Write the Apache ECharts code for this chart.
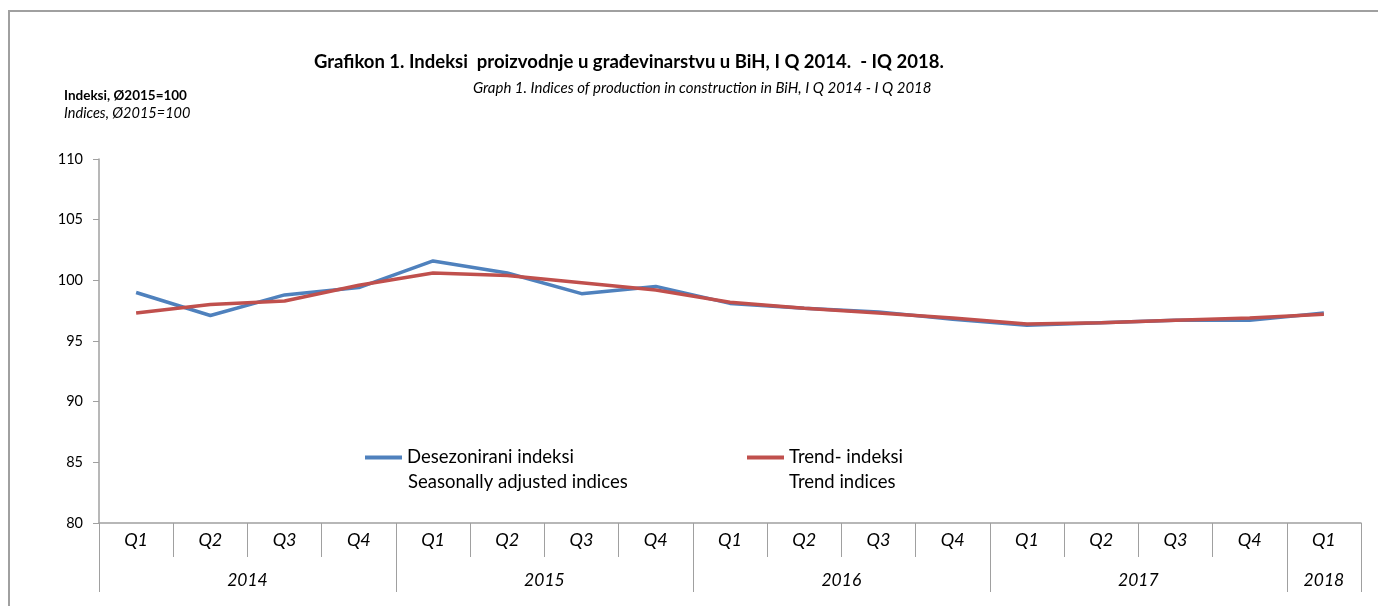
<!DOCTYPE html>
<html>
<head>
<meta charset="utf-8">
<title>Indeksi proizvodnje u građevinarstvu</title>
<script src="https://cdn.jsdelivr.net/npm/echarts@6/dist/echarts.min.js"></script>
<style>
  html, body { margin: 0; padding: 0; background: #fff; }
  #chart { width: 1378px; height: 606px; }
</style>
</head>
<body>
<div id="chart"></div>
<script>
// podaci - kvartali, godine i serije
const quarters = ['Q1', 'Q2', 'Q3', 'Q4', 'Q1', 'Q2', 'Q3', 'Q4', 'Q1', 'Q2', 'Q3', 'Q4', 'Q1', 'Q2', 'Q3', 'Q4', 'Q1']
const years = ['2014', '2015', '2016', '2017', '2018']
const quartersPerYear = [4, 4, 4, 4, 1]
const seasonal = [99.0, 97.1, 98.8, 99.4, 101.6, 100.6, 98.9, 99.5, 98.1, 97.7, 97.4, 96.8, 96.3, 96.5, 96.7, 96.7, 97.3]
const trend = [97.3, 98.0, 98.3, 99.6, 100.6, 100.4, 99.8, 99.2, 98.2, 97.7, 97.3, 96.9, 96.4, 96.5, 96.7, 96.9, 97.2]
const seriesNames = ['Desezonirani indeksi', 'Trend- indeksi']
const seriesNamesEn = ['Seasonally adjusted indices', 'Trend indices']

const FONT = 'Lato, "Open Sans", sans-serif'
const GREY = '#a0a0a0'

// granice godina i sredine za oznake
const yearBounds = [0]
const yearCenters = []
quartersPerYear.forEach(n => {
  const start = yearBounds[yearBounds.length - 1]
  yearCenters.push(start + n / 2)
  yearBounds.push(start + n)
})

const chart = echarts.init(document.getElementById('chart'))

const legendText = { fontFamily: FONT, fontSize: 18.5, color: '#000' }

const option = {
  animation: false,
  title: [
    {
      text: 'Grafikon 1. Indeksi  proizvodnje u građevinarstvu u BiH, I Q 2014.  - IQ 2018.',
      left: 314, top: 53, padding: 0,
      textStyle: { fontFamily: FONT, fontSize: 18.5, fontWeight: 'bold', color: '#000' }
    },
    {
      text: 'Graph 1. Indices of production in construction in BiH, I Q 2014 - I Q 2018',
      left: 473, top: 81, padding: 0,
      textStyle: { fontFamily: FONT, fontSize: 15, fontWeight: 'normal', fontStyle: 'italic', color: '#000' }
    },
    {
      text: 'Indeksi, Ø2015=100',
      left: 64, top: 89, padding: 0,
      textStyle: { fontFamily: FONT, fontSize: 13.5, fontWeight: 'bold', color: '#000' }
    },
    {
      text: 'Indices, Ø2015=100',
      left: 64, top: 106, padding: 0,
      textStyle: { fontFamily: FONT, fontSize: 14.5, fontWeight: 'normal', fontStyle: 'italic', color: '#000' }
    }
  ],
  legend: [
    {
      data: [seriesNames[0]],
      left: 365, top: 448, padding: 0,
      icon: 'rect', itemWidth: 37, itemHeight: 4,
      textStyle: legendText
    },
    {
      data: [seriesNames[1]],
      left: 747, top: 448, padding: 0,
      icon: 'rect', itemWidth: 37, itemHeight: 4,
      textStyle: legendText
    }
  ],
  graphic: [
    {
      type: 'rect',
      shape: { x: 9, y: 11, width: 1400, height: 700 },
      style: { fill: 'none', stroke: GREY, lineWidth: 2 },
      silent: true
    },
    {
      type: 'text', left: 408, top: 473,
      style: { text: seriesNamesEn[0], font: '18.5px ' + FONT, fill: '#000' }
    },
    {
      type: 'text', left: 789, top: 473,
      style: { text: seriesNamesEn[1], font: '18.5px ' + FONT, fill: '#000' }
    }
  ],
  grid: { left: 99, right: 17, top: 159, bottom: 83, containLabel: false },
  xAxis: [
    {
      type: 'category',
      data: quarters,
      boundaryGap: true,
      axisLine: { show: true, lineStyle: { color: GREY, width: 1.5 } },
      axisTick: { show: true, interval: 0, length: 34, lineStyle: { color: GREY } },
      axisLabel: { interval: 0, margin: 8, fontFamily: FONT, fontSize: 18, fontStyle: 'italic', color: '#000' },
      splitLine: { show: false }
    },
    {
      type: 'value',
      min: 0,
      max: yearBounds[yearBounds.length - 1],
      position: 'bottom',
      axisLine: { show: false },
      axisTick: { show: true, customValues: yearBounds, length: 69, lineStyle: { color: GREY } },
      axisLabel: {
        customValues: yearCenters,
        margin: 48,
        fontFamily: FONT, fontSize: 17.5, fontStyle: 'italic', color: '#000',
        formatter: (v) => {
          const i = yearCenters.findIndex(c => Math.abs(c - v) < 1e-6)
          return i >= 0 ? years[i] : ''
        }
      },
      splitLine: { show: false }
    }
  ],
  yAxis: {
    type: 'value',
    min: 80, max: 110, interval: 5,
    axisLine: { show: true, lineStyle: { color: GREY, width: 1.5 } },
    axisTick: { show: true, length: 6, lineStyle: { color: GREY } },
    axisLabel: { margin: 16, fontFamily: FONT, fontSize: 14.5, color: '#000' },
    splitLine: { show: false }
  },
  series: [
    {
      name: seriesNames[0],
      type: 'line',
      data: seasonal,
      symbol: 'none',
      lineStyle: { color: '#4F81BD', width: 3.5 },
      itemStyle: { color: '#4F81BD' }
    },
    {
      name: seriesNames[1],
      type: 'line',
      data: trend,
      symbol: 'none',
      lineStyle: { color: '#C0504D', width: 3.5 },
      itemStyle: { color: '#C0504D' }
    }
  ]
}

chart.setOption(option)
</script>
</body>
</html>
